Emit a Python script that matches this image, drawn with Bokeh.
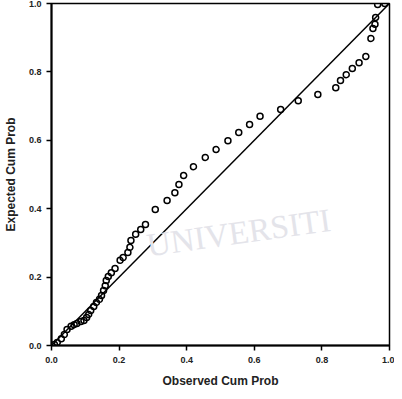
from bokeh.plotting import figure
from bokeh.models import Range1d, FixedTicker, Label
from bokeh.embed import file_html
from bokeh.resources import INLINE

observed = [0.009, 0.017, 0.029, 0.038, 0.046, 0.058, 0.067, 0.075, 0.087, 0.096,
            0.104, 0.110, 0.116, 0.125, 0.133, 0.142, 0.148, 0.154, 0.159, 0.162,
            0.168, 0.177, 0.188, 0.203, 0.212, 0.226, 0.232, 0.235, 0.249, 0.264,
            0.278, 0.307, 0.342, 0.365, 0.377, 0.391, 0.420, 0.455, 0.487, 0.522,
            0.554, 0.586, 0.617, 0.678, 0.730, 0.788, 0.841, 0.855, 0.872, 0.890,
            0.910, 0.930, 0.945, 0.951, 0.957, 0.959, 0.965, 0.986]
expected = [0.003, 0.009, 0.020, 0.032, 0.047, 0.056, 0.061, 0.064, 0.070, 0.073,
            0.082, 0.091, 0.102, 0.114, 0.126, 0.135, 0.146, 0.161, 0.175, 0.190,
            0.202, 0.213, 0.225, 0.249, 0.257, 0.272, 0.287, 0.307, 0.325, 0.339,
            0.354, 0.398, 0.424, 0.447, 0.471, 0.497, 0.523, 0.550, 0.573, 0.599,
            0.623, 0.646, 0.670, 0.690, 0.716, 0.734, 0.754, 0.775, 0.792, 0.810,
            0.827, 0.845, 0.898, 0.927, 0.939, 0.959, 0.997, 1.000]
diag = [0.0, 1.0]
ticks = [0.0, 0.2, 0.4, 0.6, 0.8, 1.0]
tick_labels = {0.0: "0.0", 0.2: "0.2", 0.4: "0.4", 0.6: "0.6", 0.8: "0.8", 1.0: "1.0"}

p = figure(width=394, height=391, output_backend="svg", toolbar_location=None,
           x_range=Range1d(0, 1), y_range=Range1d(0, 1),
           min_border_left=44, min_border_right=5, min_border_top=3, min_border_bottom=46)
p.xgrid.visible = False
p.ygrid.visible = False
p.outline_line_color = "black"
p.outline_line_width = 1.5
p.background_fill_color = "white"
p.border_fill_color = "white"

wm = Label(x=0.29, y=0.24, text="UNIVERSITI", text_font="Liberation Serif",
           text_font_size="33px", text_color="#e4e4ea", angle=0.14)
p.add_layout(wm)

p.line(diag, diag, line_color="black", line_width=1.5)
p.scatter(observed, expected, marker="circle", size=6, fill_color=None,
          line_color="black", line_width=1.5)

for ax in (p.xaxis, p.yaxis):
    ax.ticker = FixedTicker(ticks=ticks)
    ax.major_label_overrides = tick_labels
    ax.axis_line_width = 2
    ax.axis_line_color = "black"
    ax.major_tick_in = 0
    ax.major_tick_out = 5
    ax.major_tick_line_width = 1.5
    ax.minor_tick_line_color = None
    ax.major_label_text_font = "Liberation Sans"
    ax.major_label_text_font_size = "9px"
    ax.major_label_text_font_style = "bold"
    ax.major_label_text_color = "#222222"
    ax.axis_label_text_font = "Liberation Sans"
    ax.axis_label_text_font_size = "12px"
    ax.axis_label_text_font_style = "bold"
    ax.axis_label_text_color = "#222222"

p.xaxis.axis_label = "Observed Cum Prob"
p.yaxis.axis_label = "Expected Cum Prob"
p.xaxis.major_label_standoff = 6
p.xaxis.axis_label_standoff = 8
p.yaxis.axis_label_standoff = 8

open("out.html", "w").write(file_html(p, INLINE))
